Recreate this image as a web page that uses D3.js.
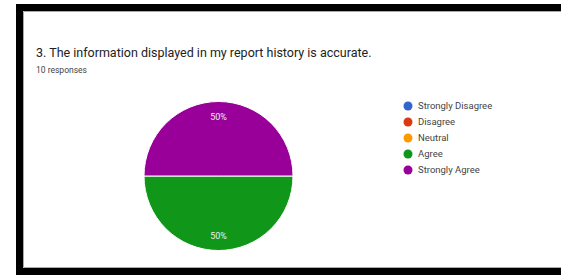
<!DOCTYPE html>
<html>
<head>
<meta charset="utf-8">
<script src="https://cdn.jsdelivr.net/npm/d3@7"></script>
<style>
  body { margin: 0; background: #fff; }
  svg { display: block; font-family: Roboto, "Noto Sans", sans-serif; }
</style>
</head>
<body>
<div id="chart"></div>
<script>
// answer categories, in form order
const categories = ["Strongly Disagree", "Disagree", "Neutral", "Agree", "Strongly Agree"];
const counts = [0, 0, 0, 5, 5];
const colors = ["#3366cc", "#dc3912", "#ff9900", "#109618", "#990099"];
const title = "3. The information displayed in my report history is accurate.";
const subtitle = "10 responses";

const width = 561, height = 275;

const svg = d3.select("#chart").append("svg")
  .attr("width", width)
  .attr("height", height);

// screenshot frame: thick black border on top/left/bottom
svg.append("rect").attr("x", 0).attr("y", 0).attr("width", width).attr("height", height).attr("fill", "#fff");
svg.append("rect").attr("x", 16).attr("y", 4).attr("width", width - 16).attr("height", 7).attr("fill", "#000");
svg.append("rect").attr("x", 16).attr("y", 4).attr("width", 7).attr("height", height - 4).attr("fill", "#000");
svg.append("rect").attr("x", 16).attr("y", 268).attr("width", width - 16).attr("height", 7).attr("fill", "#000");
svg.append("path")
  .attr("d", `M${width},11.5 H23.5 V267.5 H${width}`)
  .attr("fill", "none").attr("stroke", "#aaa").attr("stroke-width", 1);

svg.append("text")
  .attr("x", 36).attr("y", 57)
  .attr("font-size", 12.5).attr("fill", "#222")
  .text(title);

svg.append("text")
  .attr("x", 36).attr("y", 73)
  .attr("font-size", 8.5).attr("fill", "#444")
  .text(subtitle);

// pie
const cx = 218.5, cy = 176, r = 74.5;
const total = d3.sum(counts);
const data = categories.map((c, i) => ({cat: c, value: counts[i], color: colors[i]}));

const pie = d3.pie()
  .sort(null)
  .value(d => d.value)
  .startAngle(Math.PI / 2)
  .endAngle(Math.PI / 2 + 2 * Math.PI);

const arc = d3.arc().innerRadius(0).outerRadius(r);
const labelArc = d3.arc().innerRadius(r * 0.8).outerRadius(r * 0.8);

const g = svg.append("g").attr("transform", `translate(${cx},${cy})`);
const arcs = pie(data).filter(d => d.data.value > 0);

g.selectAll("path")
  .data(arcs)
  .join("path")
  .attr("d", arc)
  .attr("fill", d => d.data.color)
  .attr("stroke", "#fff")
  .attr("stroke-width", 1);

g.selectAll("text")
  .data(arcs)
  .join("text")
  .attr("transform", d => `translate(${labelArc.centroid(d)})`)
  .attr("text-anchor", "middle")
  .attr("dy", "0.35em")
  .attr("font-size", 9)
  .attr("fill", "#eee")
  .text(d => Math.round(d.data.value / total * 100) + "%");

// legend
const legend = svg.append("g").attr("transform", "translate(408,106)");
const item = legend.selectAll("g")
  .data(data)
  .join("g")
  .attr("transform", (d, i) => `translate(0,${i * 16})`);

item.append("circle")
  .attr("r", 4.5)
  .attr("fill", d => d.color);

item.append("text")
  .attr("x", 10)
  .attr("dy", "0.35em")
  .attr("font-size", 9.5)
  .attr("fill", "#444")
  .text(d => d.cat);
</script>
</body>
</html>
